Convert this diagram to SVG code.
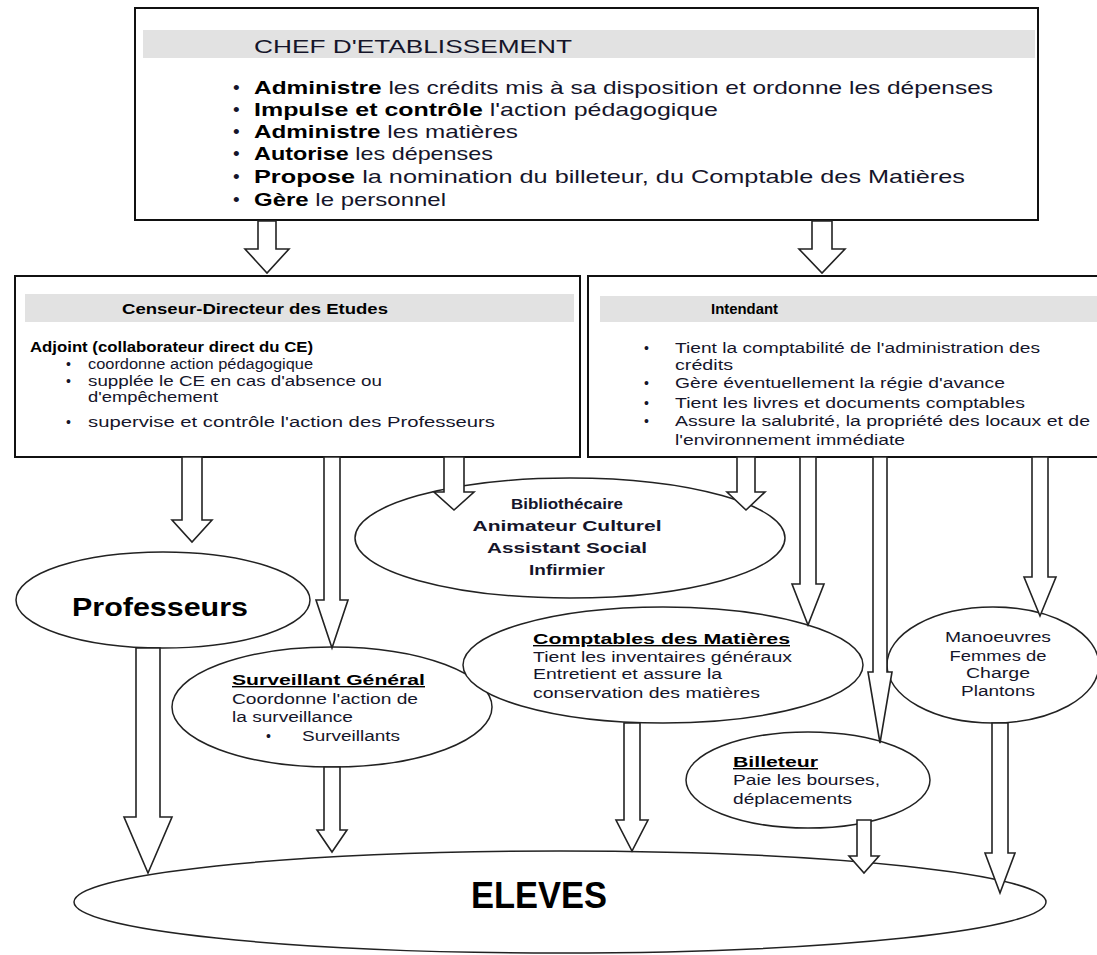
<svg xmlns="http://www.w3.org/2000/svg" width="1097" height="955" viewBox="0 0 1097 955">
<style>
.box{fill:#fff;stroke:#111;stroke-width:2}
.band{fill:#e2e2e2}
.ell{fill:#fff;stroke:#222;stroke-width:1.5}
.arr{fill:#fff;stroke:#222;stroke-width:1.6;stroke-linejoin:miter}
text{font-family:"Liberation Sans",Arial,sans-serif;fill:#15152a}
.t1{font-size:19px}
.t2{font-size:14px}
.t3{font-size:15px}
.b{font-weight:bold;fill:#000}
.u{text-decoration:underline}
</style>
<rect width="1097" height="955" fill="#fff"/>

<g id="chef">
<rect class="box" x="135" y="8" width="903" height="212"/>
<rect class="band" x="143" y="30" width="892" height="28"/>
<text class="t1" x="254" y="53" textLength="318" lengthAdjust="spacingAndGlyphs">CHEF D'ETABLISSEMENT</text>
<text class="t1" x="233" y="94">•</text>
<text class="t1" x="254" y="94" textLength="739" lengthAdjust="spacingAndGlyphs"><tspan class="b">Administre</tspan> les crédits mis à sa disposition et ordonne les dépenses</text>
<text class="t1" x="233" y="116">•</text>
<text class="t1" x="254" y="116" textLength="464" lengthAdjust="spacingAndGlyphs"><tspan class="b">Impulse et contrôle</tspan> l'action pédagogique</text>
<text class="t1" x="233" y="138">•</text>
<text class="t1" x="254" y="138" textLength="264" lengthAdjust="spacingAndGlyphs"><tspan class="b">Administre</tspan> les matières</text>
<text class="t1" x="233" y="160">•</text>
<text class="t1" x="254" y="160" textLength="239" lengthAdjust="spacingAndGlyphs"><tspan class="b">Autorise</tspan> les dépenses</text>
<text class="t1" x="233" y="183">•</text>
<text class="t1" x="254" y="183" textLength="711" lengthAdjust="spacingAndGlyphs"><tspan class="b">Propose</tspan> la nomination du billeteur, du Comptable des Matières</text>
<text class="t1" x="233" y="206">•</text>
<text class="t1" x="254" y="206" textLength="192" lengthAdjust="spacingAndGlyphs"><tspan class="b">Gère</tspan> le personnel</text>
</g>

<g id="censeur">
<rect class="box" x="15" y="276" width="565" height="181"/>
<rect class="band" x="25" y="294" width="549" height="28"/>
<text class="t3 b" x="122" y="314" textLength="266" lengthAdjust="spacingAndGlyphs">Censeur-Directeur des Etudes</text>
<text class="t2 b" x="30" y="352" textLength="283" lengthAdjust="spacingAndGlyphs">Adjoint (collaborateur direct du CE)</text>
<text class="t2" x="66" y="369">•</text>
<text class="t2" x="88" y="369" textLength="225" lengthAdjust="spacingAndGlyphs">coordonne action pédagogique</text>
<text class="t2" x="66" y="386">•</text>
<text class="t2" x="88" y="386" textLength="294" lengthAdjust="spacingAndGlyphs">supplée le CE en cas d'absence ou</text>
<text class="t2" x="88" y="402" textLength="130" lengthAdjust="spacingAndGlyphs">d'empêchement</text>
<text class="t2" x="66" y="427">•</text>
<text class="t2" x="88" y="427" textLength="407" lengthAdjust="spacingAndGlyphs">supervise et contrôle l'action des Professeurs</text>
</g>

<g id="intendant">
<rect class="box" x="588" y="276" width="515" height="181"/>
<rect class="band" x="600" y="296" width="497" height="26"/>
<text class="t3 b" x="711" y="314" textLength="67" lengthAdjust="spacingAndGlyphs">Intendant</text>
<text class="t2" x="644" y="353">•</text>
<text class="t2" x="675" y="353" textLength="365" lengthAdjust="spacingAndGlyphs">Tient la comptabilité de l'administration des</text>
<text class="t2" x="675" y="370" textLength="58" lengthAdjust="spacingAndGlyphs">crédits</text>
<text class="t2" x="644" y="388">•</text>
<text class="t2" x="675" y="388" textLength="330" lengthAdjust="spacingAndGlyphs">Gère éventuellement la régie d'avance</text>
<text class="t2" x="644" y="408">•</text>
<text class="t2" x="675" y="408" textLength="350" lengthAdjust="spacingAndGlyphs">Tient les livres et documents comptables</text>
<text class="t2" x="644" y="426">•</text>
<text class="t2" x="675" y="426" textLength="415" lengthAdjust="spacingAndGlyphs">Assure la salubrité, la propriété des locaux et de</text>
<text class="t2" x="675" y="445" textLength="230" lengthAdjust="spacingAndGlyphs">l'environnement immédiate</text>
</g>

<g id="bibliothecaire">
<ellipse class="ell" cx="570" cy="538" rx="215" ry="60"/>
<g class="t3 b" text-anchor="middle">
<text x="567" y="509" textLength="112" lengthAdjust="spacingAndGlyphs">Bibliothécaire</text>
<text x="567" y="531" textLength="189" lengthAdjust="spacingAndGlyphs">Animateur Culturel</text>
<text x="567" y="553" textLength="160" lengthAdjust="spacingAndGlyphs">Assistant Social</text>
<text x="567" y="575" textLength="76" lengthAdjust="spacingAndGlyphs">Infirmier</text>
</g>
</g>

<g id="professeurs">
<ellipse class="ell" cx="163" cy="600" rx="147" ry="48"/>
<text class="b" x="72" y="616" font-size="25" textLength="176" lengthAdjust="spacingAndGlyphs">Professeurs</text>
</g>

<g id="surveillant">
<ellipse class="ell" cx="332" cy="707" rx="160" ry="60"/>
<text class="t2 b u" x="232" y="685" textLength="193" lengthAdjust="spacingAndGlyphs">Surveillant Général</text>
<text class="t2" x="232" y="704" textLength="186" lengthAdjust="spacingAndGlyphs">Coordonne l'action de</text>
<text class="t2" x="232" y="722" textLength="121" lengthAdjust="spacingAndGlyphs">la surveillance</text>
<text class="t2" x="266" y="741">•</text>
<text class="t2" x="302" y="741" textLength="98" lengthAdjust="spacingAndGlyphs">Surveillants</text>
</g>

<g id="comptables">
<ellipse class="ell" cx="663" cy="665" rx="200" ry="58"/>
<text class="t2 b u" x="533" y="644" textLength="257" lengthAdjust="spacingAndGlyphs">Comptables des Matières</text>
<text class="t2" x="533" y="662" textLength="259" lengthAdjust="spacingAndGlyphs">Tient les inventaires généraux</text>
<text class="t2" x="533" y="679" textLength="189" lengthAdjust="spacingAndGlyphs">Entretient et assure la</text>
<text class="t2" x="533" y="698" textLength="227" lengthAdjust="spacingAndGlyphs">conservation des matières</text>
</g>

<g id="manoeuvres">
<ellipse class="ell" cx="993" cy="665" rx="106" ry="58"/>
<g class="t2" text-anchor="middle">
<text x="998" y="642" textLength="106" lengthAdjust="spacingAndGlyphs">Manoeuvres</text>
<text x="998" y="661" textLength="97" lengthAdjust="spacingAndGlyphs">Femmes de</text>
<text x="998" y="678" textLength="64" lengthAdjust="spacingAndGlyphs">Charge</text>
<text x="998" y="696" textLength="74" lengthAdjust="spacingAndGlyphs">Plantons</text>
</g>
</g>

<g id="billeteur">
<ellipse class="ell" cx="808" cy="780" rx="122" ry="48"/>
<text class="t2 b u" x="733" y="767" textLength="85" lengthAdjust="spacingAndGlyphs">Billeteur</text>
<text class="t2" x="733" y="785" textLength="147" lengthAdjust="spacingAndGlyphs">Paie les bourses,</text>
<text class="t2" x="733" y="804" textLength="119" lengthAdjust="spacingAndGlyphs">déplacements</text>
</g>

<g id="eleves">
<ellipse class="ell" cx="560" cy="902" rx="486" ry="51"/>
<text class="b" x="539" y="908" font-size="36" text-anchor="middle" textLength="136" lengthAdjust="spacingAndGlyphs">ELEVES</text>
</g>

<g id="connectors">
<polygon class="arr" points="258,221 276,221 276,249 289,249 267,273 245,249 258,249"/>
<polygon class="arr" points="812,221 832,221 832,249 845,249 822,273 799,249 812,249"/>
<polygon class="arr" points="182,457 202,457 202,520 212,520 192,542 172,520 182,520"/>
<polygon class="arr" points="324,457 340,457 340,600 348,600 332,648 316,600 324,600"/>
<polygon class="arr" points="444,457 464,457 464,492 474,492 454,510 434,492 444,492"/>
<polygon class="arr" points="737,457 755,457 755,492 765,492 746,510 727,492 737,492"/>
<polygon class="arr" points="800,457 816,457 816,584 824,584 808,625 792,584 800,584"/>
<polygon class="arr" points="873,457 887,457 887,672 892,672 880,743 868,672 873,672"/>
<polygon class="arr" points="1032,457 1048,457 1048,577 1056,577 1040,616 1024,577 1032,577"/>
<polygon class="arr" points="136,648 160,648 160,817 172,817 148,873 124,817 136,817"/>
<polygon class="arr" points="324,767 340,767 340,830 347,830 332,852 317,830 324,830"/>
<polygon class="arr" points="624,723 640,723 640,820 648,820 632,851 616,820 624,820"/>
<polygon class="arr" points="857,820 871,820 871,856 879,856 864,873 849,856 857,856"/>
<polygon class="arr" points="992,723 1008,723 1008,853 1015,853 1000,893 985,853 992,853"/>
</g>
</svg>
